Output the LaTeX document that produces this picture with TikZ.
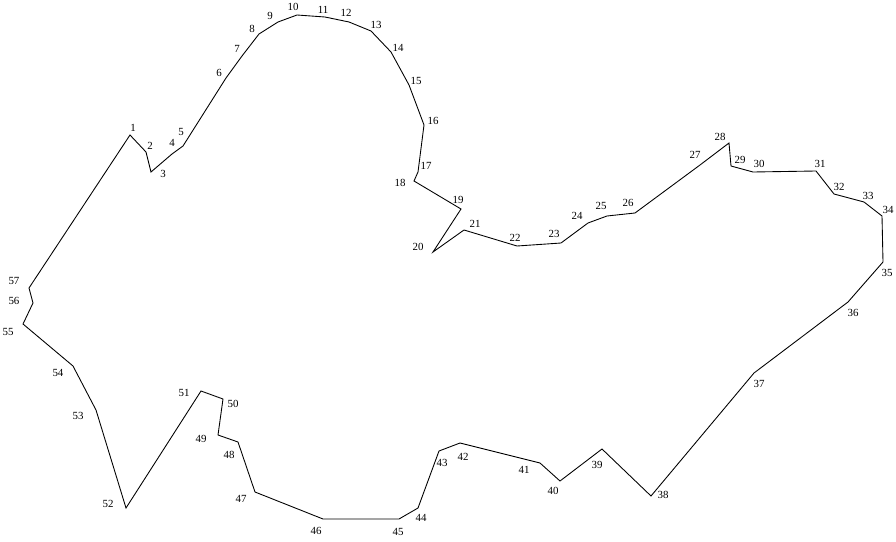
\documentclass[tikz,border=0pt]{standalone}
\usepackage{fontspec}
\setmainfont{Liberation Serif}

\begin{document}
\begin{tikzpicture}[
    x=0.02cm, y=-0.02cm,
    lbl/.style={font=\fontsize{6.2}{7}\selectfont, inner sep=0pt},
    outline/.style={line width=0.5pt, line join=miter},
]

\useasboundingbox (0,0) rectangle (896,541);

% ---- Vertices (pixel positions) ----
\foreach \n/\x/\y in {
    1/130/135, 2/146/152, 3/151/172, 4/172/154, 5/183/146,
    6/226/78, 7/242/56, 8/259/34, 9/278/22, 10/297/15,
    11/325/17, 12/349/22, 13/371/31, 14/391/52, 15/409/85,
    16/424/125, 17/418/172, 18/414/181, 19/461/209, 20/433/252,
    21/464/230, 22/517/246, 23/561/243, 24/588/223, 25/607/216,
    26/635/213, 27/700/165, 28/729/143, 29/731/166, 30/753/172,
    31/816/171, 32/834/194, 33/864/202, 34/882/216, 35/883/262,
    36/848/302, 37/754/373, 38/651/496, 39/602/449, 40/560/481,
    41/540/463, 42/460/443, 43/439/451, 44/418/508, 45/399/519,
    46/323/519, 47/255/492, 48/238/442, 49/218/435, 50/223/399,
    51/201/391, 52/126/508, 53/96/410, 54/73/366, 55/23/324,
    56/33/303, 57/29/288}
    \coordinate (v\n) at (\x,\y);

% ---- Outline ----
\draw[outline] (v1) \foreach \i in {2,...,57} { -- (v\i) } -- cycle;

% ---- Vertex numbers ----
\foreach \n/\x/\y in {
    1/133/128, 2/150/146, 3/163/174, 4/172/143, 5/181/132,
    6/219/73, 7/237/49, 8/252/29, 9/270/16, 10/293/7,
    11/323/10, 12/346/13, 13/376/25, 14/398/48, 15/416/81,
    16/433/121, 17/426/166, 18/400/183, 19/458/200, 20/418/247,
    21/475/224, 22/515/238, 23/554/234, 24/577/216, 25/601/206,
    26/628/203, 27/695/155, 28/720/137, 29/740/160, 30/759/164,
    31/820/164, 32/839/187, 33/868/196, 34/888/210, 35/887/273,
    36/853/313, 37/759/384, 38/663/495, 39/597/465, 40/553/491,
    41/524/470, 42/463/457, 43/442/463, 44/421/518, 45/398/532,
    46/316/531, 47/241/499, 48/229/455, 49/201/439, 50/233/404,
    51/184/393, 52/108/504, 53/78/416, 54/58/373, 55/8/332,
    56/14/301, 57/14/281}
    \node[lbl] (l\n) at (\x,\y) {\n};

\end{tikzpicture}
\end{document}
